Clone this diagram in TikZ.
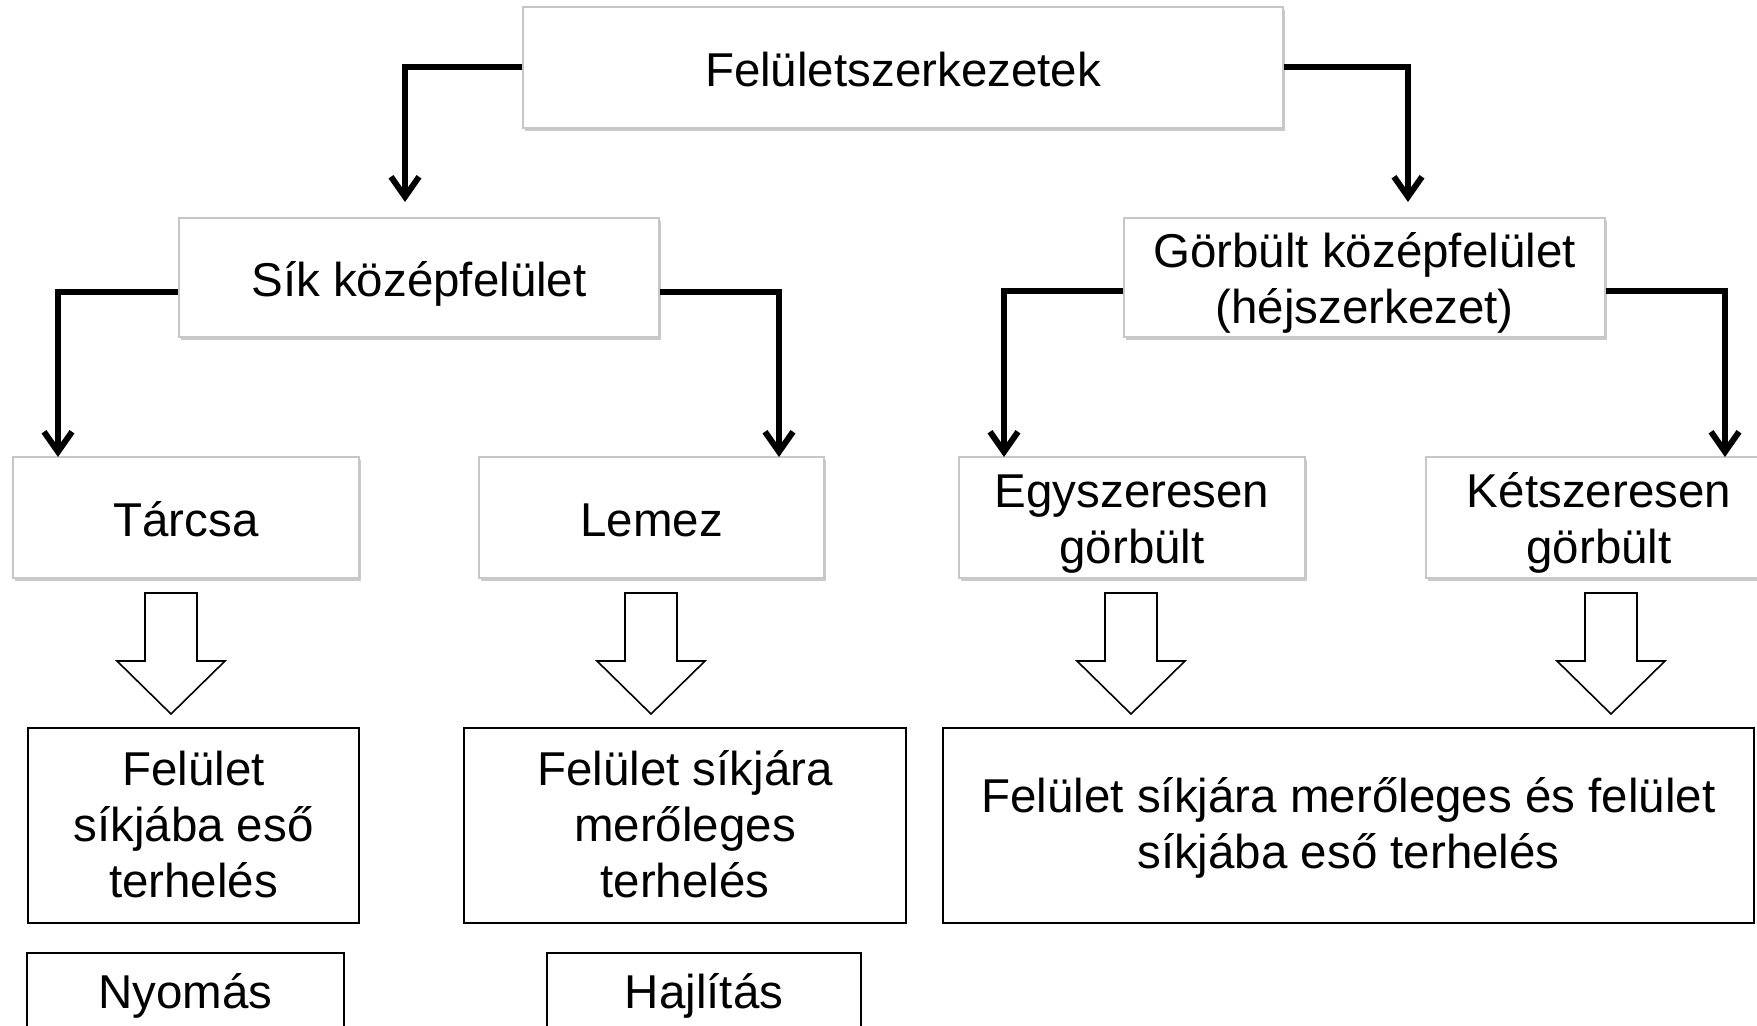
\documentclass[tikz,border=0pt]{standalone}
\usepackage{fontspec}
\setmainfont{Liberation Sans}
\usetikzlibrary{arrows.meta,shadows}

\begin{document}
\begin{tikzpicture}[x=0.5pt, y=-0.5pt, >={Straight Barb[length=10pt,width=14pt]},
		font=\fontsize{23.75}{28}\selectfont,
		tbox/.style={draw=black!22, fill=white, line width=0.6pt, align=center, inner sep=0pt,
			drop shadow={shadow xshift=1.2pt, shadow yshift=-1.4pt, fill=black!35, opacity=0.6}},
		lbox/.style={draw, fill=white, line width=1pt, align=center, inner sep=0pt},
		conn/.style={->, line width=3pt}]
		\useasboundingbox (0,0) rectangle (1757,1026);
		% shaded boxes
		\node[tbox, minimum width=380pt, text height=40pt, text depth=20.5pt] (Top) at (903,67.5) {Felületszerkezetek};
		\node[tbox, minimum width=240pt, text height=39.5pt, text depth=20pt] (Sik) at (419,277.5) {Sík középfelület};
		\node[tbox, minimum width=240.5pt, text height=53pt, text depth=6.5pt] (Gorb) at (1364.5,277.5) {Görbült középfelület\\(héjszerkezet)};
		\node[tbox, minimum width=173pt, text height=40pt, text depth=20.5pt] (Tar) at (186,517.5) {Tárcsa};
		\node[tbox, minimum width=172.5pt, text height=40pt, text depth=20.5pt] (Lem) at (651.5,517.5) {Lemez};
		\node[tbox, minimum width=173pt, text height=53pt, text depth=7.5pt] (Egy) at (1132,517.5) {Egyszeresen\\görbült};
		\node[tbox, minimum width=173pt, text height=53pt, text depth=7.5pt] (Ket) at (1599,517.5) {Kétszeresen\\görbült};
		% arrow ends above the boxes
		\coordinate (eSik) at (405,202);
		\coordinate (eGorb) at (1408,202);
		\coordinate (eTar) at (58,457);
		\coordinate (eLem) at (779,457);
		\coordinate (eEgy) at (1004,457);
		\coordinate (eKet) at (1725,457);
		\draw[conn] (Top.west) -| (eSik);
		\draw[conn] (Top.east) -| (eGorb);
		\draw[conn] ([yshift=-7.5pt]Sik.west) -| (eTar);
		\draw[conn] ([yshift=-7.5pt]Sik.east) -| (eLem);
		\draw[conn] ([yshift=-7pt]Gorb.west) -| (eEgy);
		\draw[conn] ([yshift=-7pt]Gorb.east) -| (eKet);
		% hollow block arrows
		\foreach \ax in {171,651,1131,1611}
			\draw[line width=0.8pt] (\ax-26,593) -- (\ax+26,593) -- (\ax+26,661) -- (\ax+54,661)
				-- (\ax,714) -- (\ax-54,661) -- (\ax-26,661) -- cycle;
		% load boxes
		\node[lbox, minimum width=165.5pt, text height=84.5pt, text depth=13pt] (TerhA) at (193.5,825.5) {Felület\\síkjába eső\\terhelés};
		\node[lbox, minimum width=221pt, text height=84.5pt, text depth=13pt] (TerhB) at (685,825.5) {Felület síkjára\\merőleges\\terhelés};
		\node[lbox, minimum width=405.5pt, text height=70pt, text depth=27.5pt] (TerhC) at (1348.5,825.5) {Felület síkjára merőleges és felület\\síkjába eső terhelés};
		\node[lbox, minimum width=158.5pt, text height=27.5pt, text depth=12.5pt] (Nyo) at (185.5,993) {Nyomás};
		\node[lbox, minimum width=157pt, text height=27.5pt, text depth=12.5pt] (Haj) at (704,993) {Hajlítás};
	\end{tikzpicture}
\end{document}
